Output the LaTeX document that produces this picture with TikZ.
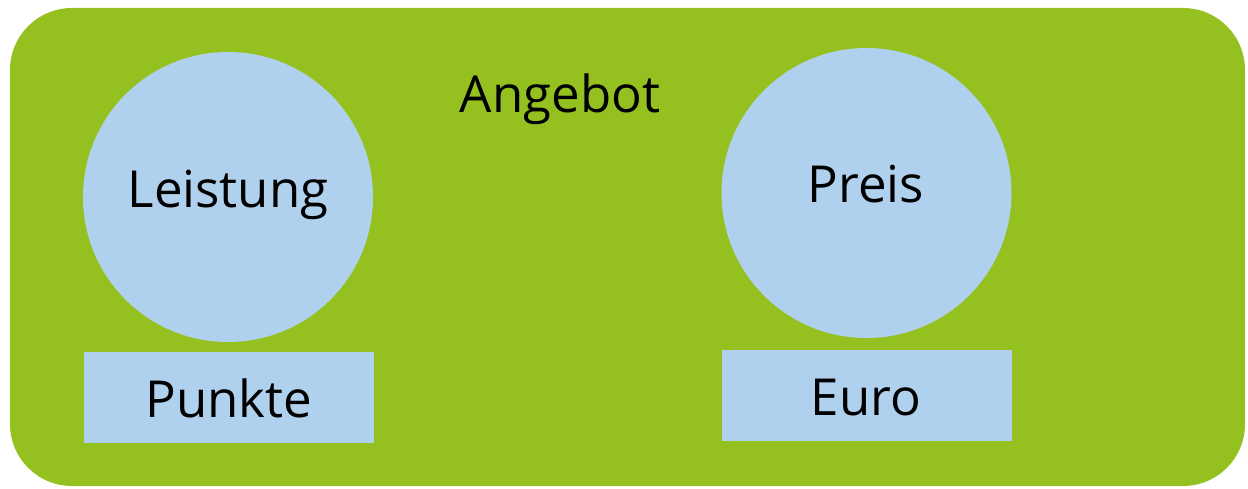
\documentclass[tikz,border=0pt]{standalone}
\usepackage{fontspec}
\setmainfont{Open Sans}
\definecolor{angebotgreen}{RGB}{149,193,32}
\definecolor{feldblue}{RGB}{176,209,238}
\tikzset{
  kreis/.style={circle, fill=feldblue, inner sep=0pt, minimum size=290pt},
  feld/.style={rectangle, fill=feldblue, inner sep=0pt, minimum width=290pt, minimum height=91pt},
  lbl/.style={anchor=base, inner sep=0pt, font=\fontsize{51}{60}\selectfont}
}
\begin{document}
\begin{tikzpicture}[x=1pt,y=1pt,yscale=-1,xscale=1]
        \useasboundingbox (0,0) rectangle (1248,489);
        %Rounded Rect
        \fill [color=angebotgreen, rounded corners=62pt] (10,8) rectangle (1245,486);
        % Circles
        \node [kreis] (leistung) at (228,197) {};
        \node [kreis] (preis) at (866.5,193) {};
        % Boxes
        \node [feld] (punkte) at (228.5,397.5) {};
        \node [feld] (euro) at (867,395) {};
        % Text Node
        \node [lbl] (angebot) at (560,113) {Angebot};
        % Text Node
        \node [lbl] (leistungtxt) at (228,208) {Leistung};
        % Text Node
        \node [lbl] (preistxt) at (866,203) {Preis};
        % Text Node
        \node [lbl] (punktetxt) at (229,417) {Punkte};
        % Text Node
        \node [lbl] (eurotxt) at (866,415) {Euro};
\end{tikzpicture}
\end{document}
